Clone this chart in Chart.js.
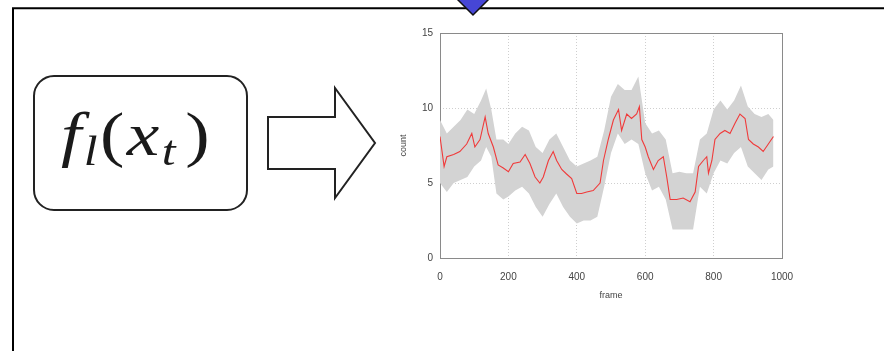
<!DOCTYPE html>
<html>
<head>
<meta charset="utf-8">
<script src="https://cdn.jsdelivr.net/npm/chart.js@4/dist/chart.umd.min.js"></script>
<style>
  html, body { margin: 0; padding: 0; background: #fff; }
  body { width: 884px; height: 351px; position: relative; overflow: hidden; }
  #chart { position: absolute; left: 0; top: 0; }
  #deco { position: absolute; left: 0; top: 0; }
  #formula {
    position: absolute; left: 30px; width: 213px; top: 104px;
    text-align: center; font-family: "Liberation Serif", "DejaVu Serif", serif;
    font-size: 61px; line-height: 62px; color: #1a1a1a; white-space: nowrap;
    letter-spacing: 2px;
    transform: scaleX(1.2); transform-origin: 50% 50%;
  }
  #formula i { font-style: italic; }
  #formula .sub { font-size: 0.68em; font-style: italic; vertical-align: -0.24em; line-height: 0; letter-spacing: 0; }
  #formula .op { margin-left: 2px; }
  #formula .cp { margin-left: 8px; }
</style>
</head>
<body>
<canvas id="chart" width="884" height="351"></canvas>
<svg id="deco" width="884" height="351" xmlns="http://www.w3.org/2000/svg">
  <line x1="12" y1="8.3" x2="884" y2="8.3" stroke="#000" stroke-width="2"/>
  <line x1="13" y1="8" x2="13" y2="351" stroke="#000" stroke-width="2"/>
  <polygon points="458,0 473,15 488,0 473,-15" fill="#4646d6" stroke="#111" stroke-width="1.5"/>
  <rect x="34" y="76" width="213" height="134" rx="20" ry="20" fill="none" stroke="#222" stroke-width="2"/>
  <polygon points="268,117 335,117 335,88 375,143 335,198 335,169 268,169" fill="#fff" stroke="#222" stroke-width="2" stroke-linejoin="miter"/>
</svg>
<div id="formula"><i>f</i><span class="sub">l</span><span class="op">(</span><i>x</i><span class="sub">t</span><span class="cp">)</span></div>
<script>
// ---- data ----
const meanFrames = [0,12,20,40,58,78,93,102,117,132,141,156,170,185,200,214,234,249,263,278,292,302,317,331,341,356,370,385,400,414,429,448,468,478,492,507,522,531,546,560,575,583,590,600,609,624,638,653,663,673,692,711,731,746,756,770,780,785,795,804,819,833,848,863,877,892,902,916,931,945,960,975];
const meanCount = [8.1,6.1,6.75,6.9,7.1,7.6,8.3,7.4,7.9,9.4,8.3,7.4,6.2,6.0,5.75,6.3,6.4,6.9,6.3,5.4,5.0,5.4,6.5,7.1,6.5,5.9,5.6,5.3,4.3,4.3,4.4,4.5,5.0,6.5,7.9,9.2,9.9,8.5,9.6,9.3,9.6,10.1,7.9,7.4,6.75,5.9,6.5,6.75,5.4,3.9,3.9,4.0,3.75,4.4,6.1,6.5,6.75,5.65,6.5,7.9,8.3,8.5,8.3,9.0,9.6,9.3,7.9,7.6,7.4,7.1,7.6,8.1];
const bandFrames = [0,20,40,60,80,100,120,135,150,165,185,200,220,240,260,280,300,320,340,360,380,400,420,440,460,480,500,520,540,560,580,600,620,640,660,680,700,720,740,760,780,800,820,840,860,880,900,920,940,960,975];
const bandUpper = [9.2,8.3,8.75,9.2,9.9,9.6,10.5,11.3,9.9,7.9,7.9,7.6,8.3,8.75,8.5,7.4,7.0,7.9,8.3,7.4,6.5,6.1,6.3,6.5,6.75,8.5,10.75,11.6,11.2,11.2,12.1,9.0,8.3,8.5,7.9,5.65,5.75,5.65,5.65,7.9,8.3,9.9,10.5,9.9,10.5,11.5,10.1,9.6,9.4,9.6,9.2];
const bandLower = [5.0,4.4,5.0,5.2,5.4,6.1,6.5,7.4,6.75,4.3,3.9,4.1,4.5,4.75,4.3,3.4,2.75,3.6,4.3,3.4,2.75,2.3,2.5,2.5,2.75,4.75,7.0,8.3,7.6,7.9,7.6,5.65,4.5,4.75,3.9,1.9,1.9,1.9,1.9,4.75,4.3,5.65,6.5,6.3,7.0,7.4,6.1,5.65,5.2,5.9,6.1];
const xTicks = [0,200,400,600,800,1000];
const yTicks = [0,5,10,15];
const xTitle = 'frame';
const yTitle = 'count';

const pts = (xs, ys) => xs.map((x, i) => ({ x: x, y: ys[i] }));

const boxPlugin = {
  id: 'plotBox',
  beforeDatasetsDraw(chart) {
    const { ctx, chartArea: a } = chart;
    ctx.save();
    ctx.strokeStyle = '#8a8a8a';
    ctx.lineWidth = 1;
    ctx.strokeRect(Math.round(a.left) + 0.5, Math.round(a.top) + 0.5, Math.round(a.right - a.left), Math.round(a.bottom - a.top));
    ctx.restore();
  }
};

const gridColor = (edges) => (c) => (edges.includes(c.tick && c.tick.value) ? 'rgba(0,0,0,0)' : '#cfcfcf');

new Chart(document.getElementById('chart'), {
  type: 'line',
  data: {
    datasets: [
      { data: pts(bandFrames, bandUpper), borderWidth: 0, pointRadius: 0, fill: '+1', backgroundColor: '#d3d3d3', tension: 0, order: 2 },
      { data: pts(bandFrames, bandLower), borderWidth: 0, pointRadius: 0, fill: false, tension: 0, order: 2 },
      { data: pts(meanFrames, meanCount), borderColor: '#f03a3a', borderWidth: 1.1, pointRadius: 0, fill: false, tension: 0, order: 0 }
    ]
  },
  options: {
    responsive: false,
    animation: false,
    events: [],
    layout: { padding: { left: 390, right: 102, top: 33, bottom: 40 } },
    plugins: { legend: { display: false }, tooltip: { enabled: false } },
    scales: {
      x: {
        type: 'linear', min: 0, max: 1000,
        afterBuildTicks: (s) => { s.ticks = xTicks.map(v => ({ value: v })); },
        afterFit: (s) => { s.height = 53; },
        grid: { color: gridColor([0, 1000]), drawTicks: false, lineWidth: 1 },
        border: { display: false, dash: [1, 2] },
        ticks: { padding: 13, color: '#444', font: { family: 'Liberation Sans', size: 10 }, maxRotation: 0, callback: (v) => String(v) },
        title: { display: true, text: xTitle, color: '#444', font: { family: 'Liberation Sans', size: 9 }, padding: { top: 2, bottom: 10 } }
      },
      y: {
        type: 'linear', min: 0, max: 15,
        afterBuildTicks: (s) => { s.ticks = yTicks.map(v => ({ value: v })); },
        afterFit: (s) => { s.width = 50; },
        grid: { color: gridColor([0, 15]), drawTicks: false, lineWidth: 1 },
        border: { display: false, dash: [1, 2] },
        ticks: { padding: 7, color: '#444', font: { family: 'Liberation Sans', size: 10 }, callback: (v) => String(v) },
        title: { display: true, text: yTitle, color: '#444', font: { family: 'Liberation Sans', size: 9 }, padding: { top: 8, bottom: 0 } }
      }
    }
  },
  plugins: [boxPlugin]
});
</script>
</body>
</html>
